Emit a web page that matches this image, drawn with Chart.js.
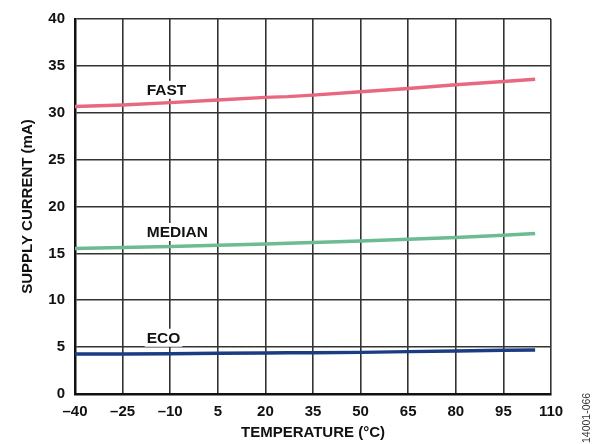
<!DOCTYPE html>
<html>
<head>
<meta charset="utf-8">
<script src="https://cdn.jsdelivr.net/npm/chart.js@4"></script>
<style>
  html, body { margin: 0; padding: 0; background: #fff; }
  #wrap { position: relative; width: 605px; height: 444px; }
</style>
</head>
<body>
<div id="wrap"><canvas id="myChart" width="605" height="444"></canvas></div>
<script>
// temperatures (°C) and supply current (mA)
const temps  = [-40, -25, -10, 5, 20, 27, 35, 50, 65, 80, 95, 105];
const fast   = [30.66, 30.83, 31.08, 31.35, 31.64, 31.72, 31.88, 32.24, 32.59, 32.98, 33.33, 33.58];
const median = [15.52, 15.63, 15.73, 15.87, 16.01, 16.08, 16.15, 16.33, 16.51, 16.69, 16.93, 17.11];
const eco    = [4.26, 4.27, 4.30, 4.34, 4.37, 4.39, 4.40, 4.44, 4.52, 4.58, 4.66, 4.69];

const seriesNames = ['FAST', 'MEDIAN', 'ECO'];
const labelPos = [[-17.4, 32.45], [-17.4, 17.28], [-17.4, 6.0]]; // left edge, centre y

const toPts = (ys) => temps.map((t, i) => ({ x: t, y: ys[i] }));
const dash = (v) => String(v).replace('-', '\u2013');
const FONT = '"Liberation Sans", Arial, sans-serif';

// in-plot series labels with white box behind them
const seriesLabels = {
  id: 'seriesLabels',
  afterDatasetsDraw(chart) {
    const { ctx, scales } = chart;
    ctx.save();
    ctx.font = 'bold 15.5px ' + FONT;
    ctx.textBaseline = 'middle';
    seriesNames.forEach((name, i) => {
      const x = scales.x.getPixelForValue(labelPos[i][0]);
      const y = scales.y.getPixelForValue(labelPos[i][1]);
      const w = ctx.measureText(name).width;
      ctx.fillStyle = '#fff';
      ctx.fillRect(x - 2, y - 9, w + 4, 18);
      ctx.fillStyle = '#111';
      ctx.fillText(name, x, y + 1);
    });
    ctx.restore();
  }
};

// figure id on right side
const figId = {
  id: 'figId',
  afterDraw(chart) {
    const { ctx } = chart;
    ctx.save();
    ctx.translate(587, 443);
    ctx.rotate(-Math.PI / 2);
    ctx.font = '10.5px ' + FONT;
    ctx.fillStyle = '#333';
    ctx.textAlign = 'left';
    ctx.textBaseline = 'middle';
    ctx.fillText('14001-066', 0, 0);
    ctx.restore();
  }
};

const ctx = document.getElementById('myChart').getContext('2d');
const tickFont = { family: FONT, size: 15, weight: 'bold' };
const titleFont = { family: FONT, size: 15, weight: 'bold' };

new Chart(ctx, {
  type: 'scatter',
  data: {
    datasets: [
      { label: 'FAST', data: toPts(fast), borderColor: '#E8687F' },
      { label: 'MEDIAN', data: toPts(median), borderColor: '#6CBB93' },
      { label: 'ECO', data: toPts(eco), borderColor: '#1A3C82' }
    ].map(d => Object.assign(d, { showLine: true, borderWidth: 3.5, pointRadius: 0, tension: 0 }))
  },
  options: {
    responsive: false,
    animation: false,
    layout: { padding: { left: 0, right: 54, top: 16, bottom: 0 } },
    plugins: { legend: { display: false }, tooltip: { enabled: false } },
    scales: {
      x: {
        type: 'linear',
        min: -40, max: 110,
        afterFit: (s) => { s.height = 50; },
        ticks: { stepSize: 15, color: '#111', font: tickFont, padding: 9, callback: dash },
        grid: { color: '#333', lineWidth: 1.6, drawTicks: false },
        border: { color: '#111', width: 2.5 },
        title: { display: true, text: 'TEMPERATURE (°C)', color: '#111', font: titleFont, padding: { top: 0, bottom: 2 } }
      },
      y: {
        min: 0, max: 40,
        afterFit: (s) => { s.width = 75; },
        ticks: { stepSize: 5, color: '#111', font: tickFont, padding: 10 },
        grid: { color: '#333', lineWidth: 1.6, drawTicks: false },
        border: { color: '#111', width: 2.5 },
        title: { display: true, text: 'SUPPLY CURRENT (mA)', color: '#111', font: titleFont, padding: { top: 19, bottom: 0 } }
      }
    }
  },
  plugins: [seriesLabels, figId]
});
</script>
</body>
</html>
